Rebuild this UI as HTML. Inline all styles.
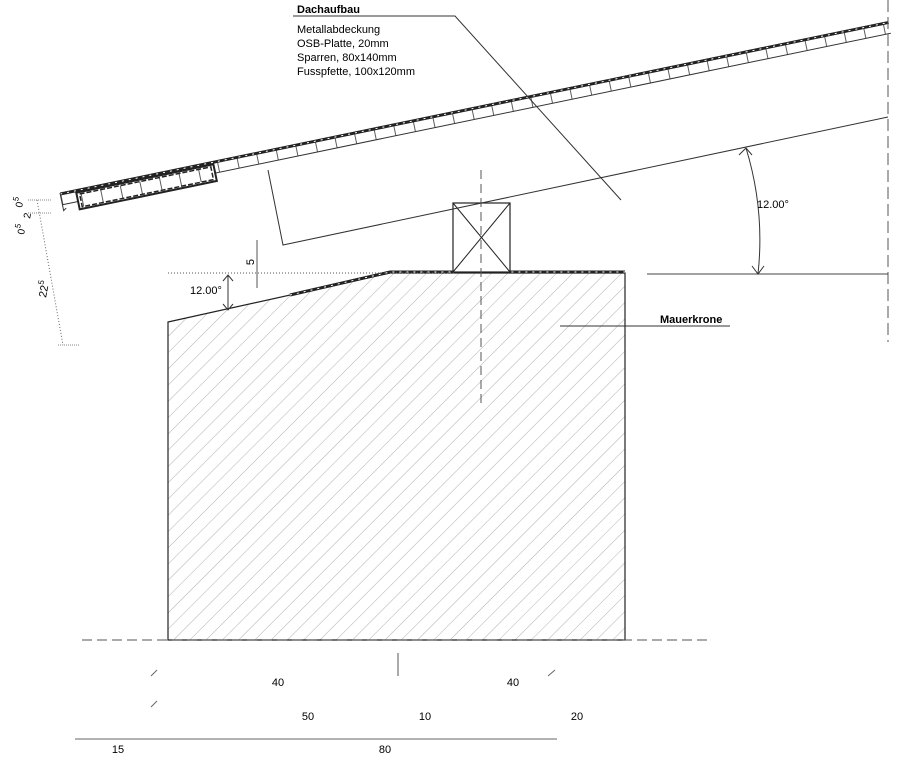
<!DOCTYPE html>
<html><head><meta charset="utf-8"><style>
html,body{margin:0;padding:0;background:#fff;}
svg{display:block;font-family:"Liberation Sans",Arial,sans-serif;}
</style></head><body>
<svg width="898" height="768" viewBox="0 0 898 768" xmlns="http://www.w3.org/2000/svg">
<defs>
<pattern id="hatch" patternUnits="userSpaceOnUse" width="11.5" height="11.5" patternTransform="rotate(45)">
<line x1="0" y1="0" x2="0" y2="11.5" stroke="#b0b0b0" stroke-width="1"/>
</pattern>
<pattern id="cells" patternUnits="userSpaceOnUse" width="20" height="20">
<line x1="0.5" y1="0" x2="0.5" y2="20" stroke="#333" stroke-width="0.8"/>
</pattern>
</defs>

<polygon points="168,322 390,273 625,273 625,640 168,640" fill="url(#hatch)" stroke="#222" stroke-width="1.2"/>
<polyline points="290,295 390,272 625,272" fill="none" stroke="#222" stroke-width="3"/>
<polyline points="290,295 390,272 625,272" fill="none" stroke="#fff" stroke-width="1" stroke-dasharray="2 5"/>

<line x1="82" y1="640" x2="710" y2="640" stroke="#555" stroke-dasharray="10 5"/>

<rect x="453" y="203" width="57" height="69" fill="#fff" stroke="#222" stroke-width="1.2"/>
<line x1="453" y1="203" x2="510" y2="272" stroke="#222"/>
<line x1="510" y1="203" x2="453" y2="272" stroke="#222"/>
<line x1="481" y1="170" x2="481" y2="408" stroke="#555" stroke-dasharray="9 5"/>

<polyline points="268,170 283,245 888,117" fill="none" stroke="#333" stroke-width="1"/>

<g transform="translate(60,193) rotate(-11.7)">
<rect x="0" y="0" width="846" height="12" fill="url(#cells)" stroke="none"/>
<line x1="0" y1="12" x2="846" y2="12" stroke="#333"/>
<line x1="0" y1="1" x2="846" y2="1" stroke="#222" stroke-width="3"/>
<line x1="0" y1="1" x2="846" y2="1" stroke="#fff" stroke-width="1" stroke-dasharray="2 5"/>
<rect x="16" y="3" width="140" height="17" fill="#fff" stroke="#222" stroke-width="2"/>
<rect x="19" y="5" width="134" height="13" fill="url(#cells)" stroke="#222" stroke-width="1.5" stroke-dasharray="5 2"/>
<polyline points="0,0 0,18 3,16" fill="none" stroke="#333"/>
</g>

<line x1="888" y1="0" x2="888" y2="342" stroke="#555" stroke-dasharray="12 5"/>
<line x1="647" y1="274" x2="888" y2="274" stroke="#444"/>
<path d="M746,148 Q765,210 758,274" fill="none" stroke="#333"/>
<polyline points="739,155 746,148 752,155" fill="none" stroke="#333"/>
<polyline points="752,266 758,274 764,266" fill="none" stroke="#333"/>
<text x="757" y="208" font-size="11">12.00°</text>

<line x1="168" y1="273" x2="455" y2="273" stroke="#555" stroke-dasharray="1 2"/>
<line x1="257" y1="240" x2="257" y2="288" stroke="#555"/>
<text transform="translate(254,262) rotate(-90)" font-size="11" text-anchor="middle">5</text>
<line x1="228" y1="275" x2="228" y2="310" stroke="#333"/>
<polyline points="223,281 228,275 233,281" fill="none" stroke="#333"/>
<polyline points="223,304 228,310 233,304" fill="none" stroke="#333"/>
<text x="190" y="294" font-size="11">12.00°</text>

<line x1="37" y1="200" x2="63" y2="345" stroke="#666" stroke-dasharray="1 2"/>
<line x1="28" y1="200" x2="52" y2="200" stroke="#888" stroke-dasharray="1 1"/>
<line x1="28" y1="213" x2="52" y2="213" stroke="#888" stroke-dasharray="1 1"/>
<line x1="58" y1="345" x2="80" y2="345" stroke="#888" stroke-dasharray="1 1"/>
<text transform="translate(22,208) rotate(-79)" font-size="10">0<tspan dy="-5" font-size="8">5</tspan></text>
<text transform="translate(30,219) rotate(-79)" font-size="10">2</text>
<text transform="translate(24,235) rotate(-79)" font-size="10">0<tspan dy="-5" font-size="8">5</tspan></text>
<text transform="translate(46,298) rotate(-79)" font-size="11">22<tspan dy="-5" font-size="8">5</tspan></text>

<text x="297" y="13" font-size="11" font-weight="bold">Dachaufbau</text>
<polyline points="293,16 455,16 621,200" fill="none" stroke="#333"/>
<text font-size="11"><tspan x="297" y="33">Metallabdeckung</tspan><tspan x="297" y="47">OSB-Platte, 20mm</tspan><tspan x="297" y="61">Sparren, 80x140mm</tspan><tspan x="297" y="75">Fusspfette, 100x120mm</tspan></text>

<text x="660" y="323" font-size="11" font-weight="bold">Mauerkrone</text>
<line x1="560" y1="326" x2="730" y2="326" stroke="#333"/>

<line x1="398" y1="653" x2="398" y2="676" stroke="#555"/>
<line x1="151" y1="676" x2="157" y2="670" stroke="#666"/>
<line x1="151" y1="707" x2="157" y2="701" stroke="#666"/>
<line x1="548" y1="676" x2="555" y2="670" stroke="#666"/>
<line x1="75" y1="739" x2="557" y2="739" stroke="#666"/>
<text x="278" y="686" font-size="11" text-anchor="middle">40</text>
<text x="513" y="686" font-size="11" text-anchor="middle">40</text>
<text x="308" y="720" font-size="11" text-anchor="middle">50</text>
<text x="425" y="720" font-size="11" text-anchor="middle">10</text>
<text x="577" y="720" font-size="11" text-anchor="middle">20</text>
<text x="118" y="753" font-size="11" text-anchor="middle">15</text>
<text x="385" y="753" font-size="11" text-anchor="middle">80</text>
</svg>
</body></html>
